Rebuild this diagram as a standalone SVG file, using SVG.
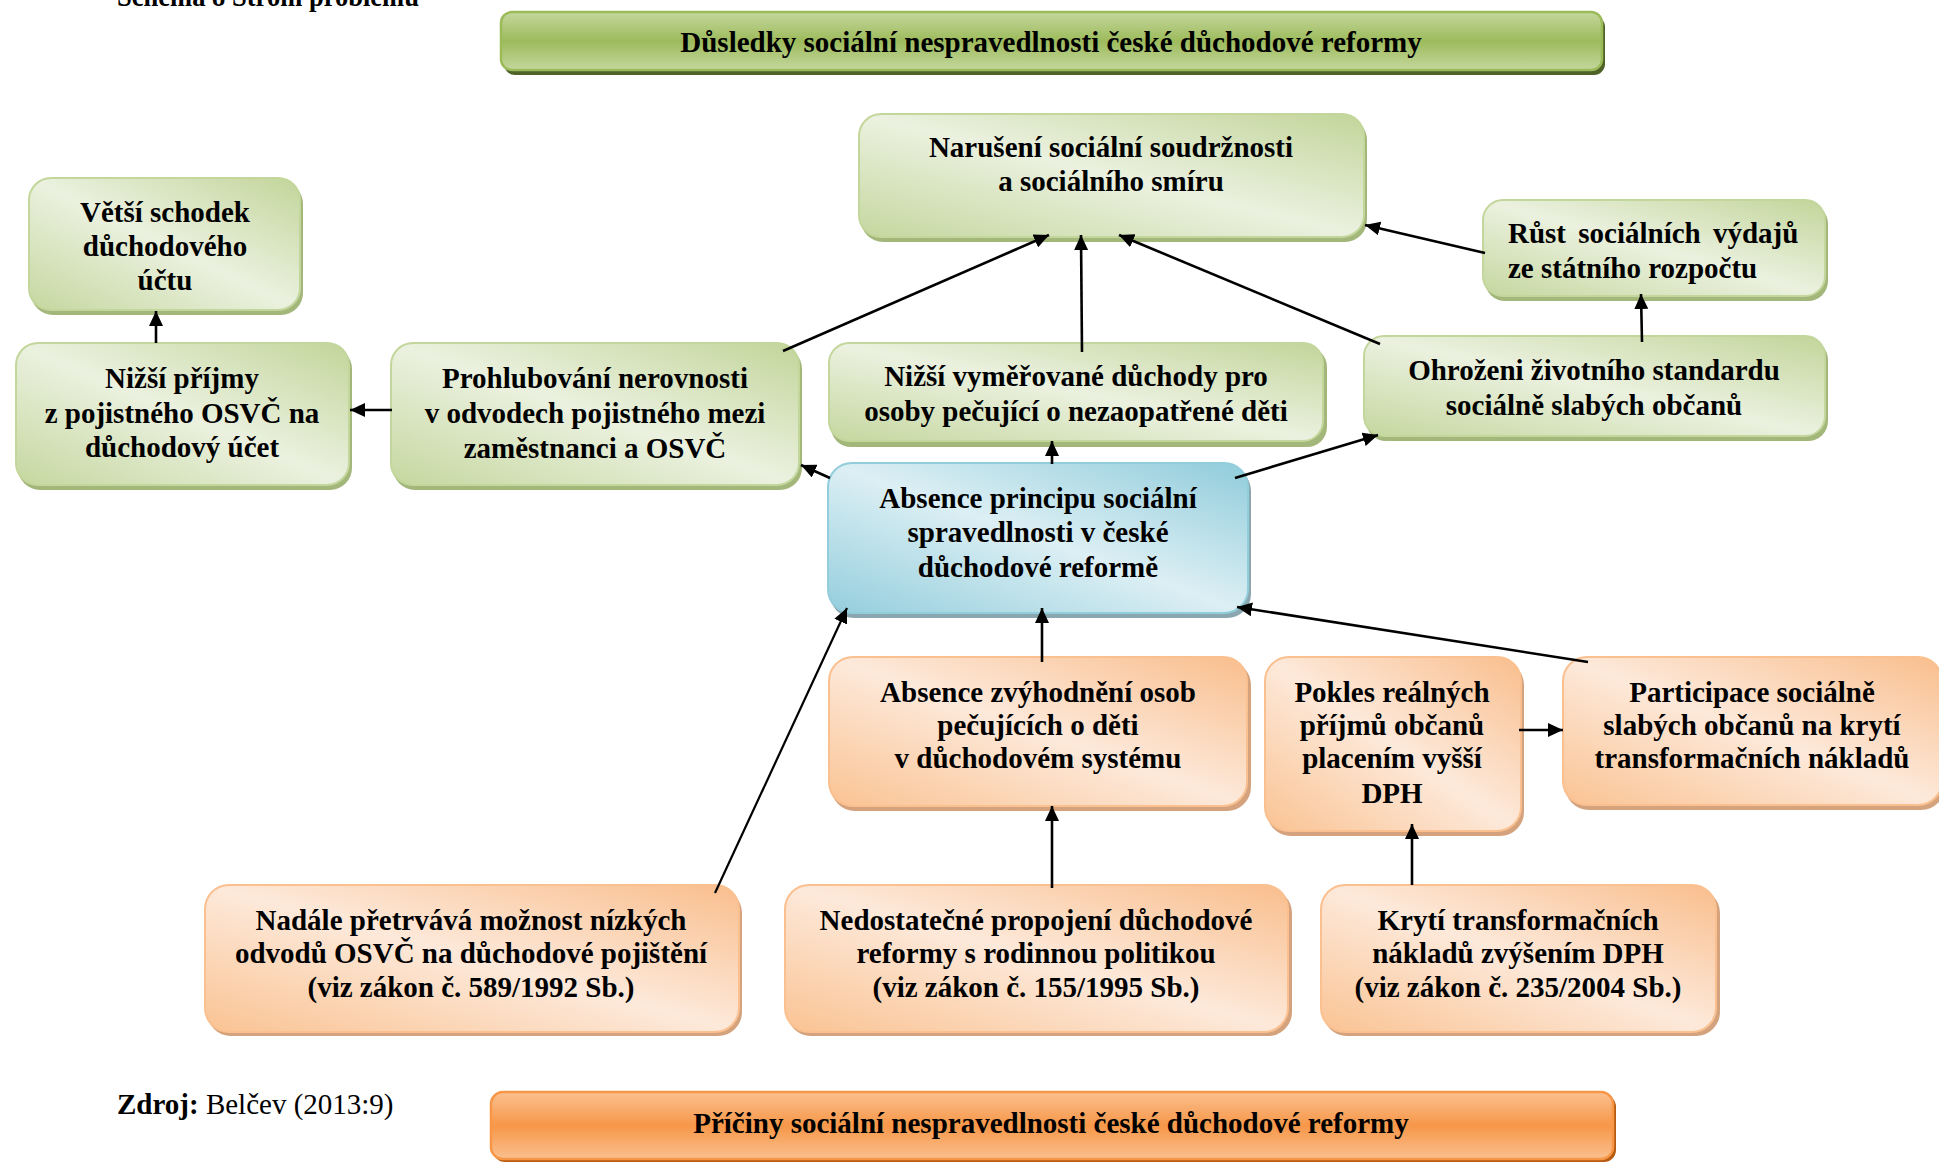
<svg xmlns="http://www.w3.org/2000/svg" width="1939" height="1164" viewBox="0 0 1939 1164">
  <defs>
    <linearGradient id="gGreen" x1="1" y1="0" x2="0" y2="1">
      <stop offset="0" stop-color="#c2d59a"/>
      <stop offset="0.5" stop-color="#ebf1df"/>
      <stop offset="1" stop-color="#c5d79f"/>
    </linearGradient>
    <linearGradient id="gBlue" x1="1" y1="0" x2="0" y2="1">
      <stop offset="0" stop-color="#90ccdb"/>
      <stop offset="0.5" stop-color="#dceff4"/>
      <stop offset="1" stop-color="#94cedd"/>
    </linearGradient>
    <linearGradient id="gOrange" x1="1" y1="0" x2="0" y2="1">
      <stop offset="0" stop-color="#f9be8d"/>
      <stop offset="0.5" stop-color="#fde9da"/>
      <stop offset="1" stop-color="#fac393"/>
    </linearGradient>
    <linearGradient id="gBannerGreen" x1="0" y1="0" x2="0" y2="1">
      <stop offset="0" stop-color="#c4d79d"/>
      <stop offset="0.5" stop-color="#9dbb5c"/>
      <stop offset="1" stop-color="#c4d79d"/>
    </linearGradient>
    <linearGradient id="gBannerOrange" x1="0" y1="0" x2="0" y2="1">
      <stop offset="0" stop-color="#fac08f"/>
      <stop offset="0.5" stop-color="#f79749"/>
      <stop offset="1" stop-color="#fac08f"/>
    </linearGradient>
    <marker id="arrow" markerUnits="userSpaceOnUse" markerWidth="16" markerHeight="14" refX="15" refY="7" orient="auto">
      <path d="M0,0 L15,7 L0,14 z" fill="#000"/>
    </marker>
  </defs>
  <style>
    text { font-family: "Liberation Serif", "Times New Roman", serif; font-weight: bold; font-size: 29px; fill: #000; }
    .c { text-anchor: middle; }
    .green .body { fill: url(#gGreen); stroke: #c3d69b; stroke-width: 2; }
    .green .sh { fill: #a3b77a; }
    .blue .body { fill: url(#gBlue); stroke: #92cddc; stroke-width: 2; }
    .blue .sh { fill: #8aa6ae; }
    .orange .body { fill: url(#gOrange); stroke: #fac090; stroke-width: 2; }
    .orange .sh { fill: #d4a27c; }
    .conn line { stroke: #000; stroke-width: 2.6; marker-end: url(#arrow); }
  </style>

  <rect width="1939" height="1164" fill="#fff"/>

  <!-- caption, clipped at the page top -->
  <text id="caption" x="117" y="6" font-size="26" textLength="302" lengthAdjust="spacingAndGlyphs">Schéma 8 Strom problému</text>

  <!-- top banner: consequences -->
  <g id="banner-consequences">
    <rect x="504" y="16" width="1101" height="59" rx="11" fill="#4f6228"/>
    <rect x="501" y="12" width="1101" height="58" rx="11" fill="url(#gBannerGreen)" stroke="#9bbb59" stroke-width="2.5"/>
    <text class="c" x="1051" y="52">Důsledky sociální nespravedlnosti české důchodové reformy</text>
  </g>

  <!-- consequence nodes -->
  <g id="n-schodek" class="green">
    <rect class="sh" x="31" y="182" width="272" height="133" rx="22"/>
    <rect class="body" x="29" y="178" width="271" height="132" rx="22"/>
    <text class="c" x="165" y="222">Větší schodek</text>
    <text class="c" x="165" y="256">důchodového</text>
    <text class="c" x="165" y="290">účtu</text>
  </g>

  <g id="n-prijmy" class="green">
    <rect class="sh" x="18" y="347" width="334" height="143" rx="22"/>
    <rect class="body" x="16" y="343" width="333" height="142" rx="22"/>
    <text class="c" x="182" y="388">Nižší příjmy</text>
    <text class="c" x="182" y="423">z pojistného OSVČ na</text>
    <text class="c" x="182" y="457">důchodový účet</text>
  </g>

  <g id="n-prohlubovani" class="green">
    <rect class="sh" x="393" y="347" width="409" height="143" rx="22"/>
    <rect class="body" x="391" y="343" width="408" height="142" rx="22"/>
    <text class="c" x="595" y="388">Prohlubování nerovnosti</text>
    <text class="c" x="595" y="423">v odvodech pojistného mezi</text>
    <text class="c" x="595" y="458">zaměstnanci a OSVČ</text>
  </g>

  <g id="n-naruseni" class="green">
    <rect class="sh" x="861" y="118" width="506" height="124" rx="22"/>
    <rect class="body" x="859" y="114" width="505" height="123" rx="22"/>
    <text class="c" x="1111" y="157">Narušení sociální soudržnosti</text>
    <text class="c" x="1111" y="191">a sociálního smíru</text>
  </g>

  <g id="n-vymerovane" class="green">
    <rect class="sh" x="831" y="347" width="496" height="100" rx="20"/>
    <rect class="body" x="829" y="343" width="494" height="98" rx="20"/>
    <text class="c" x="1076" y="386">Nižší vyměřované důchody pro</text>
    <text class="c" x="1076" y="421">osoby pečující o nezaopatřené děti</text>
  </g>

  <g id="n-rust" class="green">
    <rect class="sh" x="1485" y="204" width="343" height="97" rx="20"/>
    <rect class="body" x="1483" y="200" width="342" height="96" rx="20"/>
    <text x="1508" y="243" word-spacing="5">Růst sociálních výdajů</text>
    <text x="1508" y="278">ze státního rozpočtu</text>
  </g>

  <g id="n-ohrozeni" class="green">
    <rect class="sh" x="1366" y="340" width="462" height="101" rx="20"/>
    <rect class="body" x="1364" y="336" width="461" height="100" rx="20"/>
    <text class="c" x="1594" y="380">Ohroženi životního standardu</text>
    <text class="c" x="1594" y="415">sociálně slabých občanů</text>
  </g>

  <!-- core problem -->
  <g id="n-absence-principu" class="blue">
    <rect class="sh" x="830" y="467" width="421" height="151" rx="24"/>
    <rect class="body" x="828" y="463" width="420" height="150" rx="24"/>
    <text class="c" x="1038" y="508">Absence principu sociální</text>
    <text class="c" x="1038" y="542">spravedlnosti v české</text>
    <text class="c" x="1038" y="577">důchodové reformě</text>
  </g>

  <!-- cause nodes -->
  <g id="n-zvyhodneni" class="orange">
    <rect class="sh" x="831" y="661" width="420" height="150" rx="24"/>
    <rect class="body" x="829" y="657" width="418" height="149" rx="24"/>
    <text class="c" x="1038" y="702">Absence zvýhodnění osob</text>
    <text class="c" x="1038" y="735">pečujících o děti</text>
    <text class="c" x="1038" y="768">v důchodovém systému</text>
  </g>

  <g id="n-pokles" class="orange">
    <rect class="sh" x="1267" y="661" width="257" height="175" rx="24"/>
    <rect class="body" x="1265" y="657" width="256" height="174" rx="24"/>
    <text class="c" x="1392" y="702">Pokles reálných</text>
    <text class="c" x="1392" y="735">příjmů občanů</text>
    <text class="c" x="1392" y="768">placením vyšší</text>
    <text class="c" x="1392" y="803">DPH</text>
  </g>

  <g id="n-participace" class="orange">
    <rect class="sh" x="1565" y="661" width="380" height="149" rx="24"/>
    <rect class="body" x="1563" y="657" width="379" height="148" rx="24"/>
    <text class="c" x="1752" y="702">Participace sociálně</text>
    <text class="c" x="1752" y="735">slabých občanů na krytí</text>
    <text class="c" x="1752" y="768">transformačních nákladů</text>
  </g>

  <g id="n-nadale" class="orange">
    <rect class="sh" x="207" y="889" width="535" height="147" rx="24"/>
    <rect class="body" x="205" y="885" width="534" height="147" rx="24"/>
    <text class="c" x="471" y="930">Nadále přetrvává možnost nízkých</text>
    <text class="c" x="471" y="963">odvodů OSVČ na důchodové pojištění</text>
    <text class="c" x="471" y="997">(viz zákon č. 589/1992 Sb.)</text>
  </g>

  <g id="n-nedostatecne" class="orange">
    <rect class="sh" x="787" y="889" width="505" height="147" rx="24"/>
    <rect class="body" x="785" y="885" width="503" height="147" rx="24"/>
    <text class="c" x="1036" y="930">Nedostatečné propojení důchodové</text>
    <text class="c" x="1036" y="963">reformy s rodinnou politikou</text>
    <text class="c" x="1036" y="997">(viz zákon č. 155/1995 Sb.)</text>
  </g>

  <g id="n-kryti" class="orange">
    <rect class="sh" x="1323" y="889" width="397" height="147" rx="24"/>
    <rect class="body" x="1321" y="885" width="395" height="147" rx="24"/>
    <text class="c" x="1518" y="930">Krytí transformačních</text>
    <text class="c" x="1518" y="963">nákladů zvýšením DPH</text>
    <text class="c" x="1518" y="997">(viz zákon č. 235/2004 Sb.)</text>
  </g>

  <!-- connectors -->
  <g id="connectors" class="conn">
    <line x1="156" y1="343" x2="156" y2="311"/>
    <line x1="392" y1="410" x2="350" y2="410"/>
    <line x1="783" y1="351" x2="1049" y2="235"/>
    <line x1="1082" y1="352" x2="1081" y2="235"/>
    <line x1="1380" y1="344" x2="1119" y2="235"/>
    <line x1="1485" y1="253" x2="1365" y2="225"/>
    <line x1="1642" y1="342" x2="1641" y2="294"/>
    <line x1="1052" y1="464" x2="1052" y2="441"/>
    <line x1="830" y1="478" x2="801" y2="465"/>
    <line x1="1235" y1="478" x2="1378" y2="435"/>
    <line x1="715" y1="893" x2="847" y2="608" style="stroke-width:2.2"/>
    <line x1="1042" y1="662" x2="1042" y2="608"/>
    <line x1="1588" y1="662" x2="1237" y2="607"/>
    <line x1="1519" y1="730" x2="1563" y2="730"/>
    <line x1="1052" y1="888" x2="1052" y2="806"/>
    <line x1="1412" y1="885" x2="1412" y2="824"/>
  </g>

  <!-- source note -->
  <text id="source" x="117" y="1114">Zdroj:<tspan font-weight="normal"> Belčev (2013:9)</tspan></text>

  <!-- bottom banner: causes -->
  <g id="banner-causes">
    <rect x="493" y="1095" width="1123" height="67" rx="12" fill="#b75b12"/>
    <rect x="491" y="1092" width="1122" height="67" rx="12" fill="url(#gBannerOrange)" stroke="#f79646" stroke-width="2.5"/>
    <text class="c" x="1051" y="1133">Příčiny sociální nespravedlnosti české důchodové reformy</text>
  </g>
</svg>
